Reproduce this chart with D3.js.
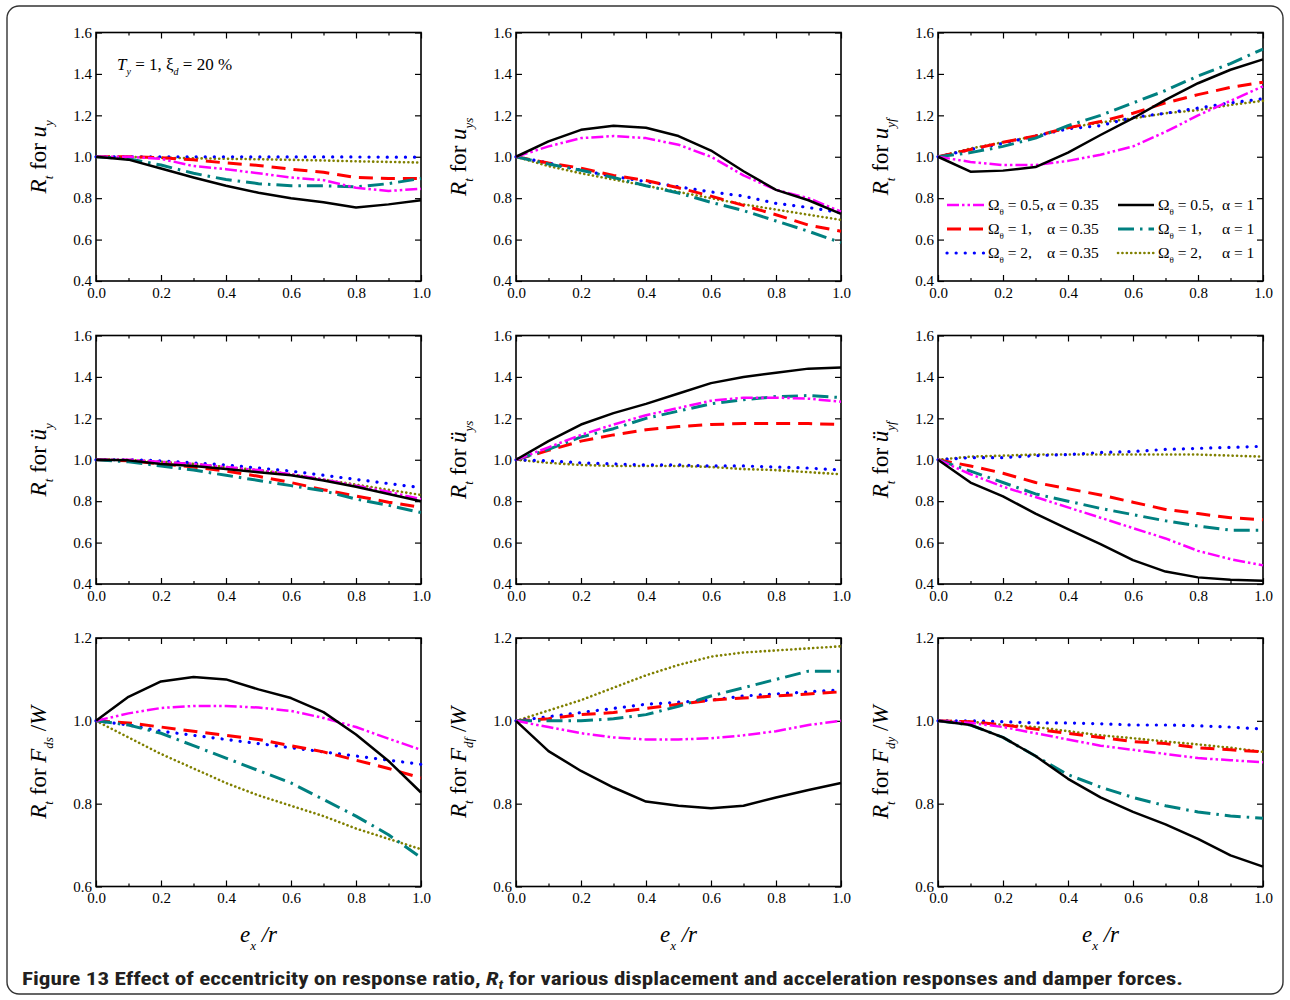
<!DOCTYPE html>
<html>
<head>
<meta charset="utf-8">
<script src="https://cdn.jsdelivr.net/npm/d3@7.9.0/dist/d3.min.js"></script>
<style>
  body { margin: 0; background: #fff; }
  svg { display: block; }
  .tick line { stroke: #000; stroke-width: 1.2; }
</style>
</head>
<body>
<svg id="chart" width="1290" height="1000"></svg>
<script>
// x values (e_x / r)
const ecc = [0, 0.1, 0.2, 0.3, 0.4, 0.5, 0.6, 0.7, 0.8, 0.9, 1.0];

// series order: Ω=0.5 α=0.35, Ω=1 α=0.35, Ω=2 α=0.35, Ω=0.5 α=1, Ω=1 α=1, Ω=2 α=1
const seriesOmega = ['0.5,', '1,', '2,', '0.5,', '1,', '2,'];
const seriesAlpha = ['0.35', '0.35', '0.35', '1', '1', '1'];

const uy = [
  [1.0, 1.0, 0.99, 0.955, 0.94, 0.92, 0.90, 0.887, 0.85, 0.835, 0.845],
  [1.0, 1.0, 0.995, 0.985, 0.97, 0.958, 0.94, 0.925, 0.90, 0.895, 0.895],
  [1.0, 1.0, 1.0, 1.0, 1.0, 0.999, 0.999, 0.999, 0.999, 0.998, 0.998],
  [1.0, 0.986, 0.943, 0.90, 0.86, 0.826, 0.80, 0.78, 0.755, 0.77, 0.79],
  [1.0, 0.99, 0.96, 0.92, 0.89, 0.87, 0.86, 0.86, 0.855, 0.87, 0.895],
  [1.0, 1.0, 0.995, 0.993, 0.99, 0.988, 0.985, 0.982, 0.978, 0.975, 0.972]
];
const uys = [
  [1.0, 1.05, 1.09, 1.10, 1.09, 1.058, 1.0, 0.91, 0.84, 0.80, 0.735],
  [1.0, 0.97, 0.945, 0.91, 0.885, 0.85, 0.81, 0.765, 0.72, 0.67, 0.64],
  [1.0, 0.97, 0.935, 0.905, 0.88, 0.855, 0.83, 0.81, 0.775, 0.755, 0.73],
  [1.0, 1.074, 1.13, 1.15, 1.14, 1.10, 1.03, 0.93, 0.84, 0.79, 0.724],
  [1.0, 0.965, 0.935, 0.90, 0.86, 0.825, 0.78, 0.74, 0.69, 0.64, 0.585],
  [1.0, 0.955, 0.92, 0.89, 0.86, 0.83, 0.80, 0.77, 0.745, 0.72, 0.695]
];
const uyf = [
  [1.0, 0.975, 0.96, 0.96, 0.98, 1.01, 1.05, 1.12, 1.20, 1.27, 1.34],
  [1.0, 1.035, 1.07, 1.10, 1.14, 1.17, 1.21, 1.26, 1.30, 1.335, 1.36],
  [1.0, 1.035, 1.065, 1.10, 1.135, 1.15, 1.19, 1.21, 1.235, 1.26, 1.28],
  [1.0, 0.928, 0.933, 0.95, 1.02, 1.105, 1.186, 1.275, 1.355, 1.42, 1.47],
  [1.0, 1.02, 1.05, 1.09, 1.15, 1.20, 1.26, 1.32, 1.39, 1.45, 1.52],
  [1.0, 1.04, 1.07, 1.10, 1.14, 1.165, 1.185, 1.21, 1.225, 1.25, 1.27]
];
const accY = [
  [1.0, 1.0, 0.99, 0.98, 0.965, 0.95, 0.93, 0.905, 0.875, 0.845, 0.81],
  [1.0, 0.995, 0.98, 0.965, 0.945, 0.92, 0.89, 0.855, 0.825, 0.795, 0.77],
  [1.0, 1.0, 0.995, 0.985, 0.975, 0.96, 0.945, 0.925, 0.905, 0.885, 0.865],
  [1.0, 0.997, 0.98, 0.97, 0.955, 0.94, 0.925, 0.90, 0.87, 0.835, 0.80],
  [1.0, 0.99, 0.97, 0.95, 0.925, 0.90, 0.875, 0.85, 0.81, 0.78, 0.745],
  [1.0, 1.0, 0.99, 0.98, 0.965, 0.95, 0.93, 0.905, 0.88, 0.855, 0.83]
];
const accYs = [
  [1.0, 1.06, 1.12, 1.17, 1.215, 1.25, 1.285, 1.30, 1.30, 1.295, 1.28],
  [1.0, 1.045, 1.09, 1.12, 1.145, 1.16, 1.17, 1.175, 1.175, 1.175, 1.17],
  [1.0, 0.995, 0.985, 0.98, 0.975, 0.975, 0.97, 0.97, 0.965, 0.96, 0.95],
  [1.0, 1.09, 1.17, 1.225, 1.27, 1.32, 1.37, 1.40, 1.42, 1.44, 1.445],
  [1.0, 1.05, 1.11, 1.15, 1.20, 1.235, 1.27, 1.29, 1.305, 1.31, 1.30],
  [1.0, 0.985, 0.975, 0.97, 0.97, 0.97, 0.965, 0.955, 0.95, 0.94, 0.93]
];
const accYf = [
  [1.0, 0.93, 0.87, 0.82, 0.77, 0.72, 0.67, 0.62, 0.56, 0.52, 0.49],
  [1.0, 0.97, 0.935, 0.89, 0.86, 0.83, 0.795, 0.76, 0.74, 0.72, 0.71],
  [1.0, 1.01, 1.01, 1.02, 1.025, 1.035, 1.04, 1.05, 1.055, 1.06, 1.065],
  [1.0, 0.89, 0.823, 0.74, 0.665, 0.593, 0.515, 0.46, 0.432, 0.42, 0.416],
  [1.0, 0.945, 0.89, 0.835, 0.80, 0.765, 0.735, 0.705, 0.68, 0.66, 0.66],
  [1.0, 1.015, 1.02, 1.025, 1.025, 1.025, 1.025, 1.025, 1.025, 1.02, 1.015]
];
const fds = [
  [1.0, 1.018, 1.031, 1.036, 1.036, 1.032, 1.024, 1.007, 0.985, 0.957, 0.93],
  [1.0, 0.995, 0.985, 0.975, 0.965, 0.955, 0.94, 0.925, 0.905, 0.885, 0.862],
  [1.0, 0.99, 0.975, 0.965, 0.955, 0.945, 0.935, 0.925, 0.915, 0.905, 0.895],
  [1.0, 1.058, 1.095, 1.106, 1.10, 1.076, 1.055, 1.021, 0.967, 0.903, 0.827],
  [1.0, 0.99, 0.97, 0.94, 0.91, 0.88, 0.85, 0.81, 0.77, 0.725, 0.67],
  [1.0, 0.96, 0.92, 0.885, 0.85, 0.82, 0.795, 0.77, 0.74, 0.715, 0.69]
];
const fdf = [
  [1.0, 0.985, 0.97, 0.96, 0.955, 0.955, 0.958, 0.965, 0.975, 0.99, 1.0],
  [1.0, 1.005, 1.015, 1.02, 1.03, 1.04, 1.05, 1.055, 1.06, 1.065, 1.07],
  [1.0, 1.01, 1.02, 1.03, 1.04, 1.045, 1.05, 1.06, 1.065, 1.07, 1.075],
  [1.0, 0.927, 0.879, 0.839, 0.805, 0.795, 0.789, 0.795, 0.815, 0.833, 0.85],
  [1.0, 1.0, 1.0, 1.005, 1.015, 1.035, 1.06, 1.08, 1.10, 1.12, 1.12],
  [1.0, 1.025, 1.05, 1.08, 1.11, 1.135, 1.155, 1.165, 1.17, 1.175, 1.18]
];
const fdy = [
  [1.0, 0.995, 0.985, 0.97, 0.955, 0.94, 0.93, 0.92, 0.91, 0.905, 0.90],
  [1.0, 0.998, 0.99, 0.98, 0.97, 0.96, 0.95, 0.945, 0.935, 0.93, 0.925],
  [1.0, 1.0, 0.998, 0.995, 0.995, 0.993, 0.99, 0.99, 0.988, 0.985, 0.98],
  [1.0, 0.99, 0.96, 0.915, 0.86, 0.815, 0.78, 0.75, 0.715, 0.675, 0.648],
  [1.0, 0.99, 0.96, 0.915, 0.87, 0.84, 0.815, 0.795, 0.78, 0.77, 0.765],
  [1.0, 0.998, 0.99, 0.985, 0.975, 0.965, 0.958, 0.95, 0.943, 0.935, 0.925]
];

const xTicks = [0, 0.2, 0.4, 0.6, 0.8, 1.0];
const xMinorTicks = [0.1, 0.3, 0.5, 0.7, 0.9];
const yTicksResp = [0.4, 0.6, 0.8, 1.0, 1.2, 1.4, 1.6];
const yTicksForce = [0.6, 0.8, 1.0, 1.2];

// line styles per series
const styles = [
  { color: '#ff00ff', width: 2.5, dash: '12,3,2.5,3,2.5,3', cap: 'butt' },
  { color: '#ff0000', width: 3, dash: '14,8', cap: 'butt' },
  { color: '#0000ff', width: 3.2, dash: '0.1,9', cap: 'round' },
  { color: '#000000', width: 2.5, dash: null, cap: 'butt' },
  { color: '#008080', width: 3, dash: '16,6,2.5,6', cap: 'butt' },
  { color: '#808000', width: 2.6, dash: '0.1,4.3', cap: 'round' }
];

const panels = [
  { data: uy,    dom: [0.4, 1.6], ticks: yTicksResp,  sym: 'u', sub: 'y' },
  { data: uys,   dom: [0.4, 1.6], ticks: yTicksResp,  sym: 'u', sub: 'ys' },
  { data: uyf,   dom: [0.4, 1.6], ticks: yTicksResp,  sym: 'u', sub: 'yf' },
  { data: accY,  dom: [0.4, 1.6], ticks: yTicksResp,  sym: 'ü', sub: 'y' },
  { data: accYs, dom: [0.4, 1.6], ticks: yTicksResp,  sym: 'ü', sub: 'ys' },
  { data: accYf, dom: [0.4, 1.6], ticks: yTicksResp,  sym: 'ü', sub: 'yf' },
  { data: fds,   dom: [0.6, 1.2], ticks: yTicksForce, sym: 'F', sub: 'ds', tail: true },
  { data: fdf,   dom: [0.6, 1.2], ticks: yTicksForce, sym: 'F', sub: 'df', tail: true },
  { data: fdy,   dom: [0.6, 1.2], ticks: yTicksForce, sym: 'F', sub: 'dy', tail: true }
];

const colX = [96, 516, 938];
const rowY = [32.5, 335.5, 638];
const pw = 325, ph = 248.5;
const serif = 'Liberation Serif';

const svg = d3.select('#chart');

// outer rounded frame
svg.append('rect')
  .attr('x', 7).attr('y', 6).attr('width', 1276).attr('height', 988)
  .attr('rx', 12).attr('fill', 'none').attr('stroke', '#333').attr('stroke-width', 1.4);

panels.forEach((p, i) => {
  const col = i % 3, row = Math.floor(i / 3);
  const g = svg.append('g').attr('transform', `translate(${colX[col]},${rowY[row]})`);
  const x = d3.scaleLinear().domain([0, 1]).range([0, pw]);
  const y = d3.scaleLinear().domain(p.dom).range([ph, 0]);

  // axes with inward ticks
  g.append('g').attr('transform', `translate(0,${ph})`)
    .call(d3.axisBottom(x).tickValues(xTicks).tickFormat(d3.format('.1f')).tickSize(-6).tickSizeOuter(0).tickPadding(6));
  g.append('g').attr('transform', `translate(0,${ph})`)
    .call(d3.axisBottom(x).tickValues(xMinorTicks).tickFormat('').tickSize(-3).tickSizeOuter(0));
  g.append('g')
    .call(d3.axisTop(x).tickValues(xTicks).tickFormat('').tickSize(-6).tickSizeOuter(0));
  g.append('g')
    .call(d3.axisTop(x).tickValues(xMinorTicks).tickFormat('').tickSize(-3).tickSizeOuter(0));
  g.append('g')
    .call(d3.axisLeft(y).tickValues(p.ticks).tickFormat(d3.format('.1f')).tickSize(-6).tickSizeOuter(0).tickPadding(4));
  g.append('g').attr('transform', `translate(${pw},0)`)
    .call(d3.axisRight(y).tickValues(p.ticks).tickFormat('').tickSize(-6).tickSizeOuter(0));
  g.selectAll('.domain').remove();
  g.selectAll('.tick text')
    .style('font-family', serif).style('font-size', '15px').attr('fill', '#000');

  g.append('rect').attr('width', pw).attr('height', ph)
    .attr('fill', 'none').attr('stroke', '#000').attr('stroke-width', 1.6);

  const line = d3.line().x((d, k) => x(ecc[k])).y(d => y(d));
  const drawOrder = [5, 2, 1, 4, 0, 3];
  drawOrder.forEach(s => {
    const st = styles[s];
    g.append('path')
      .datum(p.data[s])
      .attr('d', line)
      .attr('fill', 'none')
      .attr('stroke', st.color)
      .attr('stroke-width', st.width)
      .attr('stroke-linecap', st.cap)
      .attr('stroke-linejoin', 'round')
      .attr('stroke-dasharray', st.dash);
  });

  // y axis label
  const lx = colX[col] - 50, ly = rowY[row] + ph / 2;
  const t = svg.append('text')
    .attr('transform', `translate(${lx},${ly}) rotate(-90)`)
    .attr('text-anchor', 'middle')
    .style('font-family', serif).attr('font-size', 23);
  t.append('tspan').attr('font-style', 'italic').text('R');
  t.append('tspan').attr('font-style', 'italic').attr('font-size', 13).attr('dy', 7).text('t');
  t.append('tspan').attr('dy', -7).text(' for ');
  t.append('tspan').attr('font-style', 'italic').text(p.sym);
  t.append('tspan').attr('font-style', 'italic').attr('font-size', 13).attr('dy', 7).text(p.sub);
  if (p.tail) {
    t.append('tspan').attr('dy', -7).text(' /');
    t.append('tspan').attr('font-style', 'italic').text('W');
  }

  // x axis label under the bottom row
  if (row === 2) {
    const xl = svg.append('text')
      .attr('x', colX[col] + pw / 2).attr('y', 942)
      .attr('text-anchor', 'middle')
      .style('font-family', serif).attr('font-size', 23).attr('font-style', 'italic');
    xl.append('tspan').text('e');
    xl.append('tspan').attr('font-size', 13).attr('dy', 8).text('x');
    xl.append('tspan').attr('dy', -8).text(' /r');
  }
});

// annotation in first panel
const ann = svg.append('text').attr('x', 117).attr('y', 70)
  .style('font-family', serif).attr('font-size', 17);
ann.append('tspan').attr('font-style', 'italic').text('T');
ann.append('tspan').attr('font-style', 'italic').attr('font-size', 10).attr('dy', 5).text('y');
ann.append('tspan').attr('dy', -5).text(' = 1, ξ');
ann.append('tspan').attr('font-style', 'italic').attr('font-size', 10).attr('dy', 5).text('d');
ann.append('tspan').attr('dy', -5).text(' = 20 %');

// legend inside third panel
const legRows = [205, 229, 253];
const legCols = [
  { x1: 947, x2: 984, omega: 988, alpha: 1047 },
  { x1: 1118, x2: 1154, omega: 1158, alpha: 1222 }
];
styles.forEach((st, s) => {
  const c = legCols[Math.floor(s / 3)];
  const yy = legRows[s % 3];
  svg.append('line')
    .attr('x1', c.x1).attr('x2', c.x2).attr('y1', yy).attr('y2', yy)
    .attr('stroke', st.color).attr('stroke-width', st.width)
    .attr('stroke-linecap', st.cap).attr('stroke-dasharray', st.dash);
  const lt = svg.append('text').attr('x', c.omega).attr('y', yy + 5)
    .style('font-family', serif).attr('font-size', 15.5);
  lt.append('tspan').text('Ω');
  lt.append('tspan').attr('font-size', 9).attr('dy', 5).text('θ');
  lt.append('tspan').attr('dy', -5).text(' = ' + seriesOmega[s]);
  svg.append('text').attr('x', c.alpha).attr('y', yy + 5)
    .style('font-family', serif).attr('font-size', 15.5)
    .text('α = ' + seriesAlpha[s]);
});

// caption
const cap = svg.append('text').attr('x', 22).attr('y', 985)
  .style('font-family', 'Roboto Condensed')
  .attr('font-size', 18).attr('font-weight', 'bold').attr('fill', '#231f20')
  .attr('textLength', 1161).attr('lengthAdjust', 'spacingAndGlyphs');
cap.append('tspan').text('Figure 13 Effect of eccentricity on response ratio, ');
cap.append('tspan').attr('font-style', 'italic').text('R');
cap.append('tspan').attr('font-style', 'italic').attr('font-size', 12).attr('dy', 4).text('t');
cap.append('tspan').attr('dy', -4).text(' for various displacement and acceleration responses and damper forces.');
</script>
</body>
</html>
